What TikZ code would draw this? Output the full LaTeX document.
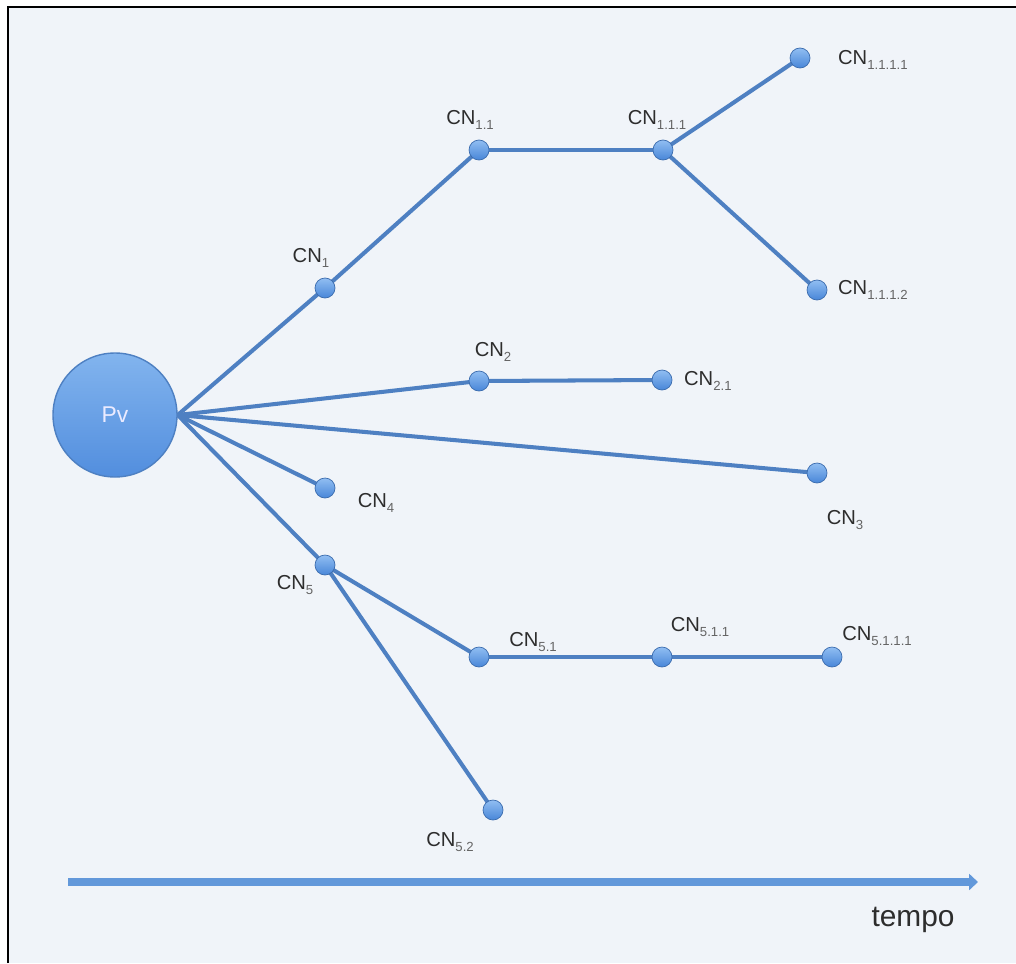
\documentclass[tikz,border=0pt]{standalone}
\usepackage{fontspec}
\setmainfont{Liberation Sans}
\usepackage{xcolor}
\usetikzlibrary{arrows.meta}

\definecolor{bgpaper}{RGB}{240,244,249}
\definecolor{edgeblue}{RGB}{78,128,194}
\definecolor{dottop}{RGB}{145,190,242}
\definecolor{dotbot}{RGB}{72,134,216}
\definecolor{pvtop}{RGB}{130,180,238}
\definecolor{pvbot}{RGB}{82,142,222}
\definecolor{axisblue}{RGB}{98,152,218}
\definecolor{labelgray}{RGB}{45,45,45}
\definecolor{subgray}{RGB}{100,100,100}

\newlength{\pxunit}\setlength{\pxunit}{0.02cm}
\newcommand{\cn}[1]{CN\raisebox{-0.45ex}{\fontsize{7.5}{8}\selectfont\color{subgray}#1}}

\pgfdeclarelayer{paper}
\pgfdeclarelayer{wires}
\pgfsetlayers{paper,wires,main}

\tikzset{
  cnode/.style={circle, minimum size=20\pxunit, inner sep=0pt,
    top color=dottop, bottom color=dotbot, draw=dotbot!80!black, line width=0.4pt},
  pvnode/.style={circle, minimum size=124\pxunit, inner sep=0pt,
    top color=pvtop, bottom color=pvbot, draw=edgeblue, line width=0.8pt,
    text=white!92!blue, font=\fontsize{13}{15}\selectfont},
  cnlabel/.style={inner sep=1pt, text=labelgray, font=\fontsize{11.5}{13}\selectfont},
  edge/.style={draw=edgeblue, line width=2.3pt},
}

\begin{document}
\begin{tikzpicture}[x=0.02cm, y=-0.02cm]
  \useasboundingbox (0,0) rectangle (1016,963);

  % the root and the nodes
  \node[pvnode] (pv) at (115,415) {Pv};
  \node[cnode] (n1) at (325,288) {};
  \node[cnode] (n11) at (479,150) {};
  \node[cnode] (n111) at (663,150) {};
  \node[cnode] (n1111) at (800,58) {};
  \node[cnode] (n1112) at (817,290) {};
  \node[cnode] (n2) at (479,381) {};
  \node[cnode] (n21) at (662,380) {};
  \node[cnode] (n3) at (817,473) {};
  \node[cnode] (n4) at (325,488) {};
  \node[cnode] (n5) at (325,565) {};
  \node[cnode] (n51) at (479,657) {};
  \node[cnode] (n511) at (662,657) {};
  \node[cnode] (n5111) at (832,657) {};
  \node[cnode] (n52) at (493,810) {};

  % labels
  \node[cnlabel] (t1) at (311,258) {\cn{1}};
  \node[cnlabel] (t11) at (470,120) {\cn{1.1}};
  \node[cnlabel] (t111) at (657,120) {\cn{1.1.1}};
  \node[cnlabel, anchor=west] (t1111) at (836,60) {\cn{1.1.1.1}};
  \node[cnlabel, anchor=west] (t1112) at (836,290) {\cn{1.1.1.2}};
  \node[cnlabel] (t2) at (493,352) {\cn{2}};
  \node[cnlabel, anchor=west] (t21) at (682,381) {\cn{2.1}};
  \node[cnlabel] (t3) at (845,520) {\cn{3}};
  \node[cnlabel] (t4) at (376,503) {\cn{4}};
  \node[cnlabel] (t5) at (295,585) {\cn{5}};
  \node[cnlabel] (t51) at (533,642) {\cn{5.1}};
  \node[cnlabel] (t511) at (700,627) {\cn{5.1.1}};
  \node[cnlabel] (t5111) at (877,636) {\cn{5.1.1.1}};
  \node[cnlabel] (t52) at (450,842) {\cn{5.2}};

  % time axis
  \coordinate (tstart) at (68,882);
  \coordinate (tend) at (978,882);
  \node[text=labelgray, font=\fontsize{17}{19}\selectfont] (tempo) at (913,920) {tempo};

  \begin{pgfonlayer}{paper}
    \fill[white] (0,0) rectangle (1016,963);
    \fill[bgpaper] (8,7) rectangle (1016,963);
    \draw[black, line width=1.6pt] (8,963) -- (8,7) -- (1016,7);
  \end{pgfonlayer}

  \begin{pgfonlayer}{wires}
    \draw[edge] (pv.east) -- (n1.center);
    \draw[edge] (n1.center) -- (n11.center);
    \draw[edge] (n11.center) -- (n111.center);
    \draw[edge] (n111.center) -- (n1111.center);
    \draw[edge] (n111.center) -- (n1112.center);
    \draw[edge] (pv.east) -- (n2.center);
    \draw[edge] (n2.center) -- (n21.center);
    \draw[edge] (pv.east) -- (n3.center);
    \draw[edge] (pv.east) -- (n4.center);
    \draw[edge] (pv.east) -- (n5.center);
    \draw[edge] (n5.center) -- (n51.center);
    \draw[edge] (n51.center) -- (n511.center);
    \draw[edge] (n511.center) -- (n5111.center);
    \draw[edge] (n5.center) -- (n52.center);
    \draw[draw=axisblue, line width=4.5pt, -{Triangle[length=5pt, width=9pt]}] (tstart) -- (tend);
  \end{pgfonlayer}
\end{tikzpicture}
\end{document}
